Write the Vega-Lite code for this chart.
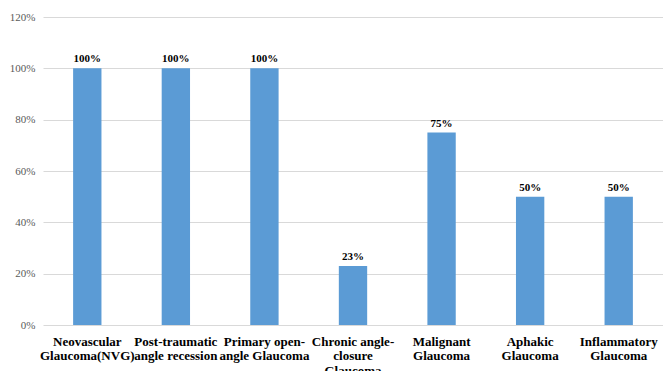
{
  "$schema": "https://vega.github.io/schema/vega-lite/v6.json",
  "width": 620,
  "height": 308,
  "autosize": "none",
  "padding": {"left": 43, "top": 17, "right": 0, "bottom": 46},
  "background": "white",
  "data": {
    "values": [
      {"category": "Neovascular Glaucoma(NVG)", "value": 1.0},
      {"category": "Post-traumatic angle recession", "value": 1.0},
      {"category": "Primary open-angle Glaucoma", "value": 1.0},
      {"category": "Chronic angle-closure Glaucoma", "value": 0.23},
      {"category": "Malignant Glaucoma", "value": 0.75},
      {"category": "Aphakic Glaucoma", "value": 0.5},
      {"category": "Inflammatory Glaucoma", "value": 0.5}
    ]
  },
  "encoding": {
    "x": {
      "field": "category",
      "type": "nominal",
      "sort": null,
      "scale": {"paddingInner": 0.68, "paddingOuter": 0.34},
      "axis": {
        "title": null,
        "labelAngle": 0,
        "labelFont": "'Liberation Serif', serif",
        "labelFontSize": 13,
        "labelFontWeight": "bold",
        "labelColor": "#000000",
        "labelLineHeight": 14.5,
        "labelPadding": 10,
        "labelBaseline": "top",
        "labelLimit": 200,
        "ticks": false,
        "domain": false,
        "labelExpr": "({'Neovascular Glaucoma(NVG)': ['Neovascular', 'Glaucoma(NVG)'], 'Post-traumatic angle recession': ['Post-traumatic', 'angle recession'], 'Primary open-angle Glaucoma': ['Primary open-', 'angle Glaucoma'], 'Chronic angle-closure Glaucoma': ['Chronic angle-', 'closure', 'Glaucoma'], 'Malignant Glaucoma': ['Malignant', 'Glaucoma'], 'Aphakic Glaucoma': ['Aphakic', 'Glaucoma'], 'Inflammatory Glaucoma': ['Inflammatory', 'Glaucoma']})[datum.value]"
      }
    },
    "y": {
      "field": "value",
      "type": "quantitative",
      "scale": {"domain": [0, 1.2], "nice": false},
      "axis": {
        "title": null,
        "format": ".0%",
        "values": [0, 0.2, 0.4, 0.6, 0.8, 1.0, 1.2],
        "labelFont": "'Liberation Serif', serif",
        "labelFontSize": 11,
        "labelColor": "#595959",
        "labelPadding": 8,
        "ticks": false,
        "domain": false,
        "grid": true,
        "gridColor": "#d9d9d9",
        "gridWidth": 1
      }
    }
  },
  "layer": [
    {"mark": {"type": "bar", "color": "#5b9bd5"}},
    {
      "mark": {
        "type": "text",
        "dy": -9,
        "font": "'Liberation Serif', serif",
        "fontSize": 11,
        "fontWeight": "bold",
        "color": "#000000"
      },
      "encoding": {"text": {"field": "value", "type": "quantitative", "format": ".0%"}}
    }
  ],
  "config": {"view": {"stroke": null}}
}
